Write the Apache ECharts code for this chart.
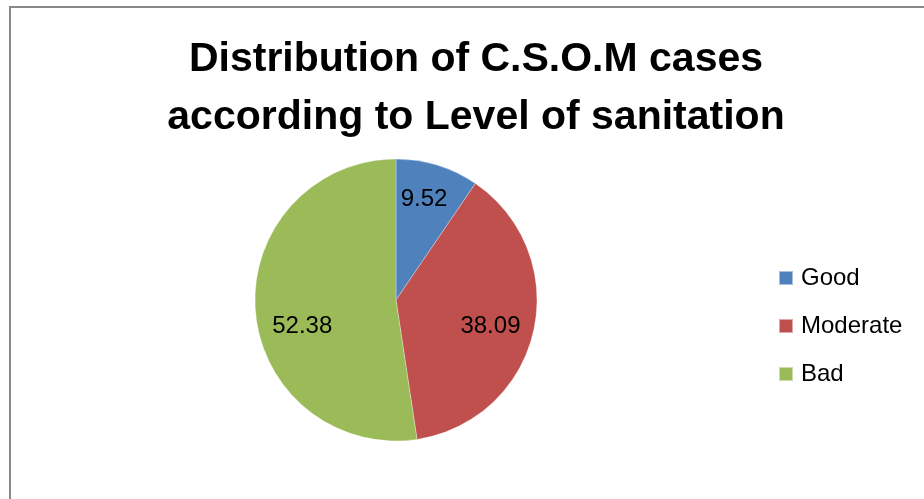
<!DOCTYPE html>
<html>
<head>
<meta charset="utf-8">
<script src="https://cdn.jsdelivr.net/npm/echarts@6/dist/echarts.min.js"></script>
<style>
html,body{margin:0;padding:0;background:#fff;}
#chart{width:924px;height:499px;}
</style>
</head>
<body>
<div id="chart"></div>
<script>
const categories = ['Good', 'Moderate', 'Bad'];
const values = [9.52, 38.09, 52.38];
const colors = ['#4F81BD', '#C0504D', '#9BBB59'];
const titleText = 'Distribution of C.S.O.M cases\naccording to Level of sanitation';
// label nudges (Excel "best fit" placement)
const labelOffsets = [[-2, -3], [-5, 4], [8, 19]];

const data = categories.map((c, i) => ({ name: c, value: values[i], itemStyle: { color: colors[i] } }));
const labelData = categories.map((c, i) => ({ name: c, value: values[i], label: { offset: labelOffsets[i] } }));

const chart = echarts.init(document.getElementById('chart'), null, { renderer: 'canvas' });
chart.setOption({
  animation: false,
  backgroundColor: '#fff',
  title: {
    text: titleText,
    left: 471,
    textAlign: 'center',
    top: 26,
    textStyle: {
      fontFamily: 'Liberation Sans',
      fontWeight: 'bold',
      fontSize: 41,
      lineHeight: 58,
      color: '#000'
    }
  },
  legend: {
    orient: 'vertical',
    left: 773,
    top: 261,
    itemWidth: 14,
    itemHeight: 14,
    itemGap: 24,
    icon: 'rect',
    data: categories,
    textStyle: { fontFamily: 'Liberation Sans', fontSize: 24, color: '#000', padding: [0, 0, 0, 3] }
  },
  graphic: [{
    type: 'rect',
    silent: true,
    shape: { x: 10, y: 7, width: 1000, height: 600 },
    style: { fill: 'none', stroke: '#898989', lineWidth: 2 }
  }],
  series: [
    {
      type: 'pie',
      center: [396, 300],
      radius: [0, 141],
      startAngle: 90,
      clockwise: true,
      data: data,
      label: { show: false },
      labelLine: { show: false },
      itemStyle: { borderColor: 'rgba(255,255,255,0.5)', borderWidth: 0.6 },
      emphasis: { disabled: true }
    },
    {
      type: 'pie',
      silent: true,
      center: [396, 300],
      radius: [0, 198],
      startAngle: 90,
      clockwise: true,
      data: labelData,
      itemStyle: { color: 'rgba(0,0,0,0)' },
      label: {
        show: true,
        position: 'inside',
        formatter: p => p.value.toFixed(2),
        fontFamily: 'Liberation Sans',
        fontSize: 24,
        color: '#000'
      },
      labelLine: { show: false },
      emphasis: { disabled: true },
      z: 3
    }
  ]
});
</script>
</body>
</html>
